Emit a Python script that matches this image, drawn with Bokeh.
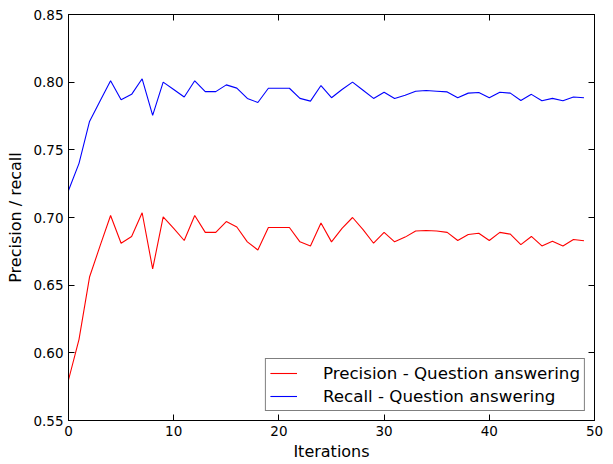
from bokeh.plotting import figure
from bokeh.models import LinearAxis, FixedTicker, Legend, LegendItem, Range1d
from bokeh.embed import file_html
from bokeh.resources import INLINE

iterations = list(range(50))
precision = [0.580, 0.610, 0.656, 0.679, 0.7015, 0.681, 0.686, 0.7035, 0.662, 0.7005,
             0.692, 0.683, 0.7015, 0.689, 0.689, 0.697, 0.693, 0.682, 0.676, 0.6926,
             0.6926, 0.6926, 0.682, 0.679, 0.696, 0.682, 0.692, 0.700, 0.691, 0.681,
             0.689, 0.682, 0.6855, 0.690, 0.6904, 0.690, 0.689, 0.683, 0.6874, 0.6884,
             0.683, 0.689, 0.6877, 0.680, 0.686, 0.679, 0.6825, 0.679, 0.6838, 0.6828]
recall = [0.720, 0.740, 0.771, 0.786, 0.801, 0.787, 0.791, 0.8025, 0.7754, 0.800,
          0.7946, 0.789, 0.801, 0.793, 0.793, 0.798, 0.7956, 0.788, 0.785, 0.7955,
          0.7955, 0.7955, 0.788, 0.786, 0.7975, 0.7885, 0.7946, 0.800, 0.794, 0.788,
          0.7926, 0.788, 0.7904, 0.7933, 0.7938, 0.7933, 0.7928, 0.7885, 0.7919, 0.7924,
          0.7885, 0.7926, 0.7919, 0.7865, 0.791, 0.7863, 0.788, 0.7863, 0.789, 0.7885]
x_ticks = [0, 10, 20, 30, 40, 50]
y_ticks = [0.55, 0.60, 0.65, 0.70, 0.75, 0.80, 0.85]
y_tick_labels = ["0.55", "0.60", "0.65", "0.70", "0.75", "0.80", "0.85"]

FONT = "DejaVu Sans"

p = figure(frame_width=526, frame_height=406, output_backend="svg", toolbar_location=None,
           x_range=Range1d(0, 50), y_range=Range1d(0.55, 0.85),
           min_border_left=68, min_border_right=10, min_border_top=14, min_border_bottom=10)
p.xgrid.visible = False
p.ygrid.visible = False
p.outline_line_color = "black"
p.outline_line_width = 1
p.background_fill_color = "white"
p.border_fill_color = "white"

r1 = p.line(iterations, precision, line_color="#ff0000", line_width=1.1)
r2 = p.line(iterations, recall, line_color="#0000ff", line_width=1.1)

def style_axis(ax, labels=True):
    ax.major_tick_in = 6
    ax.major_tick_out = 0
    ax.minor_tick_in = 0
    ax.minor_tick_out = 0
    ax.axis_line_color = "black"
    ax.major_tick_line_color = "black"
    ax.major_label_text_font = FONT
    ax.major_label_text_font_size = "13.5px"
    ax.major_label_text_color = "black"
    ax.axis_label_text_font = FONT
    ax.axis_label_text_font_size = "16px"
    ax.axis_label_text_font_style = "normal"
    ax.axis_label_text_color = "black"
    if not labels:
        ax.major_label_text_color = None
        ax.major_label_text_font_size = "1px"
        ax.major_label_standoff = 0

xa = p.xaxis[0]
ya = p.yaxis[0]
xa.ticker = FixedTicker(ticks=x_ticks)
ya.ticker = FixedTicker(ticks=y_ticks)
ya.major_label_overrides = {t: l for t, l in zip(y_ticks, y_tick_labels)}
style_axis(xa)
style_axis(ya)
xa.axis_label = "Iterations"
ya.axis_label = "Precision / recall"
xa.major_label_standoff = 5
ya.major_label_standoff = 5
xa.axis_label_standoff = 3
ya.axis_label_standoff = 5

ra = LinearAxis(ticker=FixedTicker(ticks=y_ticks))
style_axis(ra, labels=False)
p.add_layout(ra, "right")
ta = LinearAxis(ticker=FixedTicker(ticks=x_ticks))
style_axis(ta, labels=False)
p.add_layout(ta, "above")

legend = Legend(items=[LegendItem(label="Precision - Question answering", renderers=[r1]),
                       LegendItem(label="Recall - Question answering", renderers=[r2])],
                location="bottom_right")
legend.label_text_font = FONT
legend.label_text_font_size = "16.7px"
legend.label_text_color = "black"
legend.border_line_color = "black"
legend.border_line_width = 1
legend.background_fill_color = "white"
legend.background_fill_alpha = 1
legend.glyph_width = 27
legend.glyph_height = 18
legend.label_height = 18
legend.label_standoff = 26
legend.spacing = 3
legend.padding = 4
legend.margin = 9
p.add_layout(legend)

open("out.html", "w").write(file_html(p, INLINE))
